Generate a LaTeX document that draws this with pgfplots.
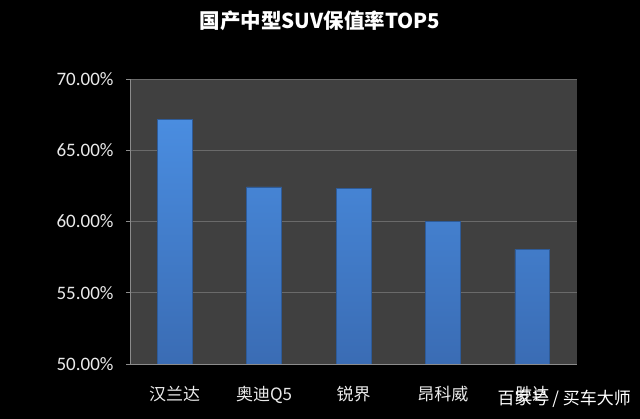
\documentclass[border=0pt]{standalone}
\usepackage{pgfplots}
\pgfplotsset{compat=1.18}
\usepackage{fontspec}
\setmainfont{Carlito}
\newfontfamily\cjk{Noto Sans CJK SC}

\definecolor{plotbg}{HTML}{404040}
\definecolor{bartop}{HTML}{4A8DE0}
\definecolor{barbot}{HTML}{3A6CB4}
\definecolor{baredge}{HTML}{2E5B98}
\definecolor{gridc}{HTML}{6A6A6A}
\definecolor{axisc}{HTML}{8C8C8C}
\definecolor{labelc}{HTML}{EAEAEA}

\begin{document}
\begin{tikzpicture}
% black page, same size as the reference (1px = 1pt)
\fill[black] (0,0) rectangle (640pt,419pt);

\begin{axis}[
    at={(130pt,55pt)}, anchor=south west,
    scale only axis, width=447pt, height=285pt,
    axis background/.style={fill=plotbg},
    xmin=-0.5, xmax=4.5,
    ymin=50, ymax=70,
    y coord trafo/.code={\pgfmathparse{#1-50}},
    y coord inv trafo/.code={\pgfmathparse{#1+50}},
    ytick={50,55,...,70},
    yticklabel={\pgfmathprintnumber[fixed,fixed zerofill,precision=2]{\tick}\%},
    /pgf/number format/assume math mode=true,
    xtick={0,...,4},
    xticklabels={汉兰达,奥迪Q5,锐界,昂科威,胜达},
    xticklabel style={font=\cjk\fontsize{17}{17}\selectfont, text=labelc, yshift=-15pt},
    yticklabel style={font=\fontsize{19}{19}\selectfont, text=labelc, xshift=-9pt},
    major x tick style={draw=none},
    extra x ticks={-0.5,0.5,...,4.5},
    extra x tick labels={},
    extra x tick style={grid=none, major tick length=4pt, tick style={draw=axisc}},
    tick align=outside,
    major tick length=4pt,
    tick style={draw=axisc, line width=0.6pt},
    ymajorgrids,
    grid style={draw=gridc, line width=0.6pt},
    axis x line*=bottom, axis y line*=left,
    axis line style={draw=axisc, line width=0.8pt, -},
    ybar, bar width=0.39,
  ]
  \addplot[draw=baredge, line width=0.5pt, top color=bartop, bottom color=barbot]
    coordinates {(0,67.15) (1,62.43) (2,62.34) (3,60.01) (4,58.05)};
\end{axis}

\node[text=white, font=\cjk\bfseries\fontsize{20.5}{20.5}\selectfont]
  at (320pt,398pt) {国产中型SUV保值率TOP5};
\node[anchor=east, text=white, font=\cjk\fontsize{17}{17}\selectfont, inner sep=0pt]
  at (631pt,20pt) {百家号 / 买车大师};
\end{tikzpicture}
\end{document}
